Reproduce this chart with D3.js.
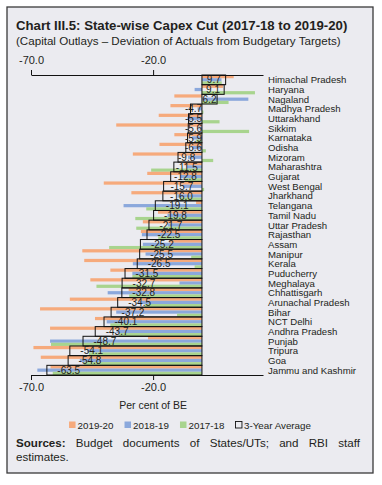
<!DOCTYPE html>
<html><head><meta charset="utf-8">
<script src="https://cdn.jsdelivr.net/npm/d3@7/dist/d3.min.js"></script>
<style>
html,body{margin:0;padding:0;background:#fff;}
svg{display:block;font-family:"Liberation Sans",Arial,sans-serif;}
</style></head>
<body><svg id="c" width="382" height="485"></svg>
<script>
const categories = ["Himachal Pradesh","Haryana","Nagaland","Madhya Pradesh","Uttarakhand","Sikkim","Karnataka","Odisha","Mizoram","Maharashtra","Gujarat","West Bengal","Jharkhand","Telangana","Tamil Nadu","Uttar Pradesh","Rajasthan","Assam","Manipur","Kerala","Puducherry","Meghalaya","Chhattisgarh","Arunachal Pradesh","Bihar","NCT Delhi","Andhra Pradesh","Punjab","Tripura","Goa","Jammu and Kashmir"];
const avg3Year = [9.7,9.1,6.2,-4.7,-5.5,-5.6,-5.9,-6.6,-9.8,-11.5,-12.8,-15.7,-16.0,-19.1,-19.8,-21.7,-22.5,-25.2,-25.5,-26.5,-31.5,-32.7,-32.8,-34.5,-37.2,-40.1,-43.7,-48.7,-54.1,-54.8,-63.5];
const fy2019_20 = [13.0,8.6,-11.3,-12.9,-17.7,-35.1,-11.3,-17.4,-28.3,-7.5,-22.4,-40.2,-28.9,-2.4,-18.0,-24.2,-25.0,-13.4,-49.0,-48.2,-37.5,-45.7,-30.0,-54.1,-66.3,-43.8,-62.2,-22.1,-69.0,-66.0,-62.0];
const fy2018_19 = [8.0,-3.0,19.0,-1.8,-6.0,-1.0,-4.0,-4.0,-5.7,-6.2,-9.0,-7.8,-10.0,-32.1,-14.1,-14.0,-24.6,-24.2,-23.1,-28.3,-28.5,-9.2,-38.6,-26.0,-35.1,-39.0,-35.0,-62.2,-47.0,-50.0,-67.4];
const fy2017_18 = [8.1,21.7,10.9,0.6,7.2,19.3,-2.4,1.6,4.6,-20.8,-7.0,0.9,-9.1,-22.8,-27.3,-26.9,-17.9,-38.0,-4.4,-3.0,-28.5,-43.2,-29.8,-23.4,-10.2,-37.5,-33.9,-61.8,-46.3,-48.4,-61.1];
const seriesNames = ["2019-20","2018-19","2017-18"];
const seriesColors = ["#f6aa7c","#8ba8dc","#a8d48e"];
const avgName = "3-Year Average";
const xTickValues = [-70,-20];
const xDomain = [-70,25];
const titleText = "Chart III.5: State-wise Capex Cut (2017-18 to 2019-20)";
const subtitleText = "(Capital Outlays \u2013 Deviation of Actuals from Budgetary Targets)";
const axisTitle = "Per cent of BE";
const sourceLabel = "Sources:";
const sourceText = "Budget documents of States/UTs; and RBI staff estimates.";

const seriesValues = [fy2019_20, fy2018_19, fy2017_18];
const fmt = v => v.toFixed(1);

const svg = d3.select("#c");
const ink = "#231f20";
// frame
svg.append("rect").attr("x",7).attr("y",7).attr("width",366).attr("height",466)
  .attr("fill","#ebebf0").attr("stroke","#3a3a3a").attr("stroke-width",1.3);

svg.append("text").attr("x",16).attr("y",30).attr("font-size",13.2).attr("font-weight","bold")
  .attr("fill",ink).text(titleText);
svg.append("text").attr("x",16).attr("y",45).attr("font-size",11.6)
  .attr("fill",ink).text(subtitleText);

const x = d3.scaleLinear().domain(xDomain).range([31,263]);
const y = d3.scaleBand().domain(categories).range([75,375]).padding(0);
const sub = d3.scaleBand().domain(seriesNames).range([0,y.bandwidth()]).padding(0);

const rows = categories.map((c,i)=>({c, avg:avg3Year[i], vals:seriesValues.map(s=>s[i])}));

const g = svg.append("g");
rows.forEach(r=>{
  r.vals.forEach((v,k)=>{
    g.append("rect")
      .attr("x", x(Math.min(0,v)))
      .attr("width", Math.abs(x(v)-x(0)))
      .attr("y", y(r.c)+sub(seriesNames[k]))
      .attr("height", sub.bandwidth())
      .attr("fill", seriesColors[k]);
  });
});
rows.forEach(r=>{
  g.append("rect")
    .attr("x", x(Math.min(0,r.avg)))
    .attr("width", Math.abs(x(r.avg)-x(0)))
    .attr("y", y(r.c))
    .attr("height", y.bandwidth())
    .attr("fill","none").attr("stroke","#111").attr("stroke-width",1);
});
// value labels
rows.forEach(r=>{
  const t = g.append("text").attr("font-size",10).attr("fill",ink)
    .attr("y", y(r.c)+y.bandwidth()/2+3.6).text(fmt(r.avg));
  const w = t.node().getComputedTextLength();
  if (r.avg >= 0) {
    t.attr("x", (x(0)+x(r.avg))/2 - w/2);
  } else {
    const left = x(r.avg);
    const off = Math.max(0, Math.min(10.5, (Math.abs(r.avg)-10)*1.2));
    t.attr("x", Math.min(left+off, x(0)-17));
  }
});

// axes
const topAxis = d3.axisTop(x).tickValues(xTickValues).tickFormat(fmt).tickSize(5).tickSizeOuter(0);
const botAxis = d3.axisBottom(x).tickValues(xTickValues).tickFormat(fmt).tickSize(5).tickSizeOuter(0);
const ta = svg.append("g").attr("transform","translate(0,75)").call(topAxis);
const ba = svg.append("g").attr("transform","translate(0,375)").call(botAxis);
[ta,ba].forEach(a=>{
  a.select(".domain").attr("stroke","#111").attr("stroke-width",1);
  a.selectAll(".tick line").attr("stroke","#111");
  a.selectAll(".tick text").attr("font-size",11).attr("fill",ink).attr("font-family","Liberation Sans,Arial,sans-serif");
});
ta.selectAll(".tick text").attr("dy","-0.3em");

// category labels
svg.append("g").selectAll("text").data(categories).join("text")
  .attr("x",268).attr("y",c=>y(c)+y.bandwidth()/2+3.5)
  .attr("font-size",9.6).attr("fill",ink).text(c=>c);

svg.append("text").attr("x",x(-20)).attr("y",409).attr("text-anchor","middle")
  .attr("font-size",10.5).attr("fill",ink).text(axisTitle);

// legend, centred in frame
const legendItems = seriesNames.map((n,i)=>({n,c:seriesColors[i],box:false})).concat([{n:avgName,c:"none",box:true}]);
const lg = svg.append("g");
const lfs = 9.8, sw = 6.5, sgap = 2, igap = 11;
const lItems = legendItems.map(d=>{
  const gi = lg.append("g");
  gi.append("rect").attr("x",0).attr("y",-7).attr("width",sw).attr("height",sw)
    .attr("fill",d.box?"none":d.c).attr("stroke",d.box?"#111":"none").attr("stroke-width",0.9);
  const t = gi.append("text").attr("x",sw+sgap).attr("y",0).attr("font-size",lfs).attr("fill",ink).text(d.n);
  return {gi, w: sw+sgap+t.node().getComputedTextLength()};
});
const totalW = d3.sum(lItems,d=>d.w) + igap*(lItems.length-1);
let lx = 190 - totalW/2;
lItems.forEach(it=>{ it.gi.attr("transform",`translate(${lx},428.5)`); lx += it.w + igap; });

// sources, justified first line
const words = sourceText.split(" ");
const line1 = words.slice(0,7), line2 = words.slice(7);
const srcY1 = 447, srcY2 = 461, left = 16, right = 360;
const fs = 11.6;
const s = svg.append("g").attr("font-size",fs).attr("fill",ink);
const items = [{t:sourceLabel,b:true}].concat(line1.map(w=>({t:w,b:false})));
const nodes = items.map(it=>s.append("text").attr("y",srcY1).attr("font-weight",it.b?"bold":"normal").text(it.t));
const widths = nodes.map(n=>n.node().getComputedTextLength());
const gap = (right-left-d3.sum(widths))/(nodes.length-1);
let cx = left;
nodes.forEach((n,i)=>{ n.attr("x",cx); cx += widths[i]+gap; });
s.append("text").attr("x",left).attr("y",srcY2).text(line2.join(" "));
</script></body></html>
